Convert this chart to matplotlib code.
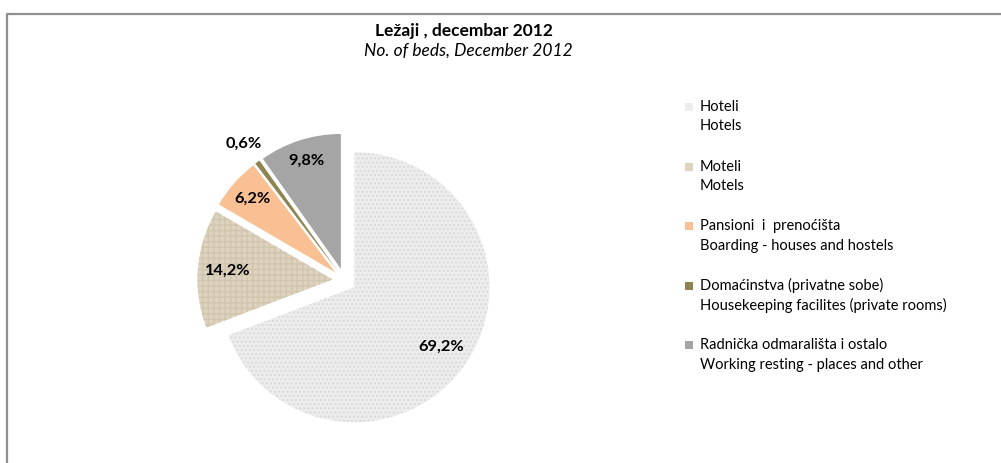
import numpy as np
import matplotlib.pyplot as plt
from matplotlib.patches import Rectangle
from matplotlib.lines import Line2D

# chart data
categories = ["Hoteli", "Moteli", "Pansioni  i  prenoćišta",
              "Domaćinstva (privatne sobe)", "Radnička odmarališta i ostalo"]
categories_en = ["Hotels", "Motels", "Boarding - houses and hostels",
                 "Housekeeping facilites (private rooms)", "Working resting - places and other"]
shares = [69.2, 14.2, 6.2, 0.6, 9.8]
pct_labels = ["69,2%", "14,2%", "6,2%", "0,6%", "9,8%"]

colors = ["#ededed", "#ddd3bf", "#f9c093", "#8d8451", "#a5a5a5"]
hatches = ["....", "+++", None, None, None]
hatch_cols = ["#d9d9d9", "#d0c5ad", "#f9c093", "#8d8451", "#a5a5a5"]

plt.rcParams['font.family'] = ['Lato', 'DejaVu Sans']

W, H = 1001, 463
fig = plt.figure(figsize=(W / 100, H / 100), dpi=100)
ax = fig.add_axes([0, 0, 1, 1])

r = 135
cx, cy = 344.5, H - 280.4
wedges, _ = ax.pie(shares, colors=colors, startangle=90, counterclock=False,
                   center=(cx, cy), radius=r, explode=[12] * 5,
                   wedgeprops=dict(linewidth=0))
for w, h, hc in zip(wedges, hatches, hatch_cols):
    if h:
        w.set_hatch(h)
        w.set_edgecolor(hc)
        w.set_linewidth(0)

# pie() resets the limits, so set them afterwards
ax.set_xlim(0, W)
ax.set_ylim(0, H)
ax.set_aspect('equal')
ax.axis('off')

# frame of the chart area (top and left edge visible)
ax.add_line(Line2D([7, 7, W], [0, H - 13.5, H - 13.5], color="#8f8f8f", lw=1.6))

# percentage labels, distance as a fraction of radius
label_dist = [0.87, 0.87, 0.91, 1.26, 0.93]
for w, lab, d in zip(wedges, pct_labels, label_dist):
    th = np.deg2rad((w.theta1 + w.theta2) / 2)
    ax.text(cx + d * r * np.cos(th), cy + d * r * np.sin(th), lab,
            ha='center', va='center', fontsize=11.8, fontweight='bold', color='black')

# titles
ax.text(464, H - 31, "Ležaji , decembar 2012", ha='center', va='center',
        fontsize=12.5, fontweight='bold')
ax.text(468, H - 51, "No. of beds, December 2012", ha='center', va='center',
        fontsize=12.5, style='italic')

# legend
for i, (c, l1, l2) in enumerate(zip(colors, categories, categories_en)):
    y = H - 107 - i * 59.6
    ax.add_patch(Rectangle((685, y - 4), 8, 8, facecolor=c, edgecolor='none'))
    ax.text(700, y, l1, ha='left', va='center', fontsize=10.5)
    ax.text(700, y - 19.5, l2, ha='left', va='center', fontsize=10.5)

fig.savefig("out.png", dpi=100)
